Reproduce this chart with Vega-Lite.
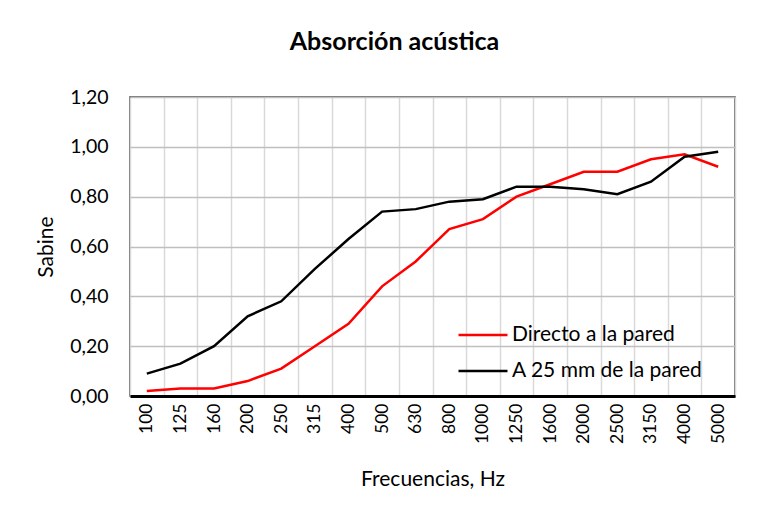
{
  "$schema": "https://vega.github.io/schema/vega-lite/v6.json",
  "width": 605,
  "height": 299,
  "autosize": {"type": "none"},
  "padding": {"left": 130, "top": 97, "right": 35, "bottom": 124},
  "background": "white",
  "title": {
    "text": "Absorción acústica",
    "font": "Lato",
    "fontSize": 25,
    "fontWeight": "bold",
    "color": "#000000",
    "anchor": "middle",
    "dx": -38,
    "offset": 32
  },
  "data": {
    "values": [
      {"f": "100", "serie": "Directo a la pared", "v": 0.02},
      {"f": "125", "serie": "Directo a la pared", "v": 0.03},
      {"f": "160", "serie": "Directo a la pared", "v": 0.03},
      {"f": "200", "serie": "Directo a la pared", "v": 0.06},
      {"f": "250", "serie": "Directo a la pared", "v": 0.11},
      {"f": "315", "serie": "Directo a la pared", "v": 0.20},
      {"f": "400", "serie": "Directo a la pared", "v": 0.29},
      {"f": "500", "serie": "Directo a la pared", "v": 0.44},
      {"f": "630", "serie": "Directo a la pared", "v": 0.54},
      {"f": "800", "serie": "Directo a la pared", "v": 0.67},
      {"f": "1000", "serie": "Directo a la pared", "v": 0.71},
      {"f": "1250", "serie": "Directo a la pared", "v": 0.80},
      {"f": "1600", "serie": "Directo a la pared", "v": 0.85},
      {"f": "2000", "serie": "Directo a la pared", "v": 0.90},
      {"f": "2500", "serie": "Directo a la pared", "v": 0.90},
      {"f": "3150", "serie": "Directo a la pared", "v": 0.95},
      {"f": "4000", "serie": "Directo a la pared", "v": 0.97},
      {"f": "5000", "serie": "Directo a la pared", "v": 0.92},
      {"f": "100", "serie": "A 25 mm de la pared", "v": 0.09},
      {"f": "125", "serie": "A 25 mm de la pared", "v": 0.13},
      {"f": "160", "serie": "A 25 mm de la pared", "v": 0.20},
      {"f": "200", "serie": "A 25 mm de la pared", "v": 0.32},
      {"f": "250", "serie": "A 25 mm de la pared", "v": 0.38},
      {"f": "315", "serie": "A 25 mm de la pared", "v": 0.51},
      {"f": "400", "serie": "A 25 mm de la pared", "v": 0.63},
      {"f": "500", "serie": "A 25 mm de la pared", "v": 0.74},
      {"f": "630", "serie": "A 25 mm de la pared", "v": 0.75},
      {"f": "800", "serie": "A 25 mm de la pared", "v": 0.78},
      {"f": "1000", "serie": "A 25 mm de la pared", "v": 0.79},
      {"f": "1250", "serie": "A 25 mm de la pared", "v": 0.84},
      {"f": "1600", "serie": "A 25 mm de la pared", "v": 0.84},
      {"f": "2000", "serie": "A 25 mm de la pared", "v": 0.83},
      {"f": "2500", "serie": "A 25 mm de la pared", "v": 0.81},
      {"f": "3150", "serie": "A 25 mm de la pared", "v": 0.86},
      {"f": "4000", "serie": "A 25 mm de la pared", "v": 0.96},
      {"f": "5000", "serie": "A 25 mm de la pared", "v": 0.98}
    ]
  },
  "mark": {"type": "line", "strokeWidth": 2.5},
  "encoding": {
    "x": {
      "field": "f",
      "type": "ordinal",
      "sort": null,
      "bandPosition": 0.5,
      "scale": {"type": "band", "paddingInner": 0, "paddingOuter": 0},
      "axis": {
        "title": "Frecuencias, Hz",
        "titleFont": "Lato",
        "titleFontSize": 21,
        "titleFontWeight": "normal",
        "titleColor": "#000000",
        "titlePadding": 25,
        "labelAngle": 270,
        "labelFont": "Lato",
        "labelFontSize": 17.5,
        "labelColor": "#000000",
        "labelPadding": 7,
        "tickBand": "extent",
        "ticks": false,
        "domainColor": "#000000",
        "domainWidth": 3,
        "grid": true,
        "gridColor": "#d9d9d9",
        "gridWidth": 1.5
      }
    },
    "y": {
      "field": "v",
      "type": "quantitative",
      "scale": {"domain": [0, 1.2], "nice": false},
      "axis": {
        "title": "Sabine",
        "titleFont": "Lato",
        "titleFontSize": 21,
        "titleFontWeight": "normal",
        "titleColor": "#000000",
        "titlePadding": 13,
        "values": [0, 0.2, 0.4, 0.6, 0.8, 1.0, 1.2],
        "labelExpr": "replace(format(datum.value, '.2f'), '.', ',')",
        "labelFont": "Lato",
        "labelFontSize": 19.5,
        "labelColor": "#000000",
        "labelPadding": 22,
        "ticks": false,
        "domain": false,
        "grid": true,
        "gridColor": "#bfbfbf",
        "gridWidth": 1.5
      }
    },
    "color": {
      "field": "serie",
      "type": "nominal",
      "scale": {
        "domain": ["Directo a la pared", "A 25 mm de la pared"],
        "range": ["#ff0000", "#000000"]
      },
      "legend": {
        "title": null,
        "orient": "none",
        "legendX": 327,
        "legendY": 212,
        "padding": 0,
        "symbolType": "stroke",
        "symbolSize": 2400,
        "symbolStrokeWidth": 2.5,
        "labelFont": "Lato",
        "labelFontSize": 21,
        "labelColor": "#000000",
        "labelOffset": 3,
        "labelLimit": 400,
        "rowPadding": -5
      }
    }
  },
  "config": {"view": {"stroke": "#404040", "strokeWidth": 1.5}}
}
